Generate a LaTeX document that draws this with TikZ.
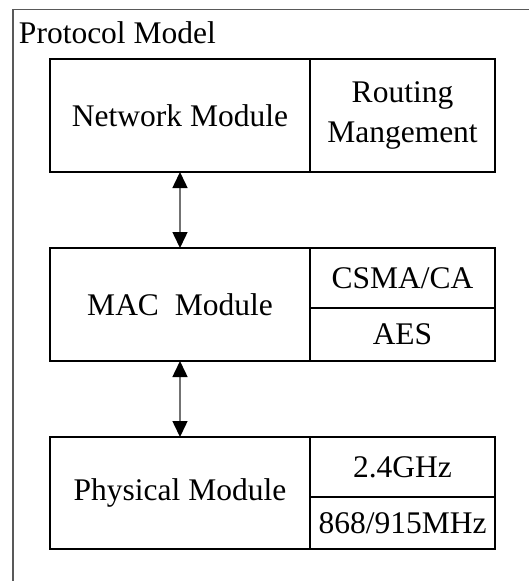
\documentclass[tikz,border=0pt]{standalone}
\usepackage{fontspec}
\setmainfont{Liberation Serif}
\usetikzlibrary{arrows.meta}
\begin{document}
\begin{tikzpicture}[x=1pt,y=-1pt,
  every node/.style={font=\fontsize{31.5}{40}\selectfont, inner sep=0pt, outer sep=0pt},
  cell/.style={draw=black, line width=1.2pt, rectangle, anchor=north west, align=center},
  link/.style={draw=black!55, line width=1.5pt,
    {Triangle[length=16pt,width=15pt,color=black]}-{Triangle[length=16pt,width=15pt,color=black]}},
  frame/.style={draw=black!65, line width=1.5pt}]
\useasboundingbox (0,0) rectangle (529,581);
% outer frame (open, cropped)
\coordinate (fr) at (529,9.5);
\coordinate (fc) at (13,9.5);
\coordinate (fb) at (13,581);
\draw[frame] (fr) -- (fc) -- (fb);
\node[anchor=base west] (title) at (19,43) {Protocol Model};
% Network
\node[cell, minimum width=260pt, minimum height=113pt] (net) at (50,59) {Network Module};
\node[cell, minimum width=185pt, minimum height=113pt] (route) at (310,59) {Routing\\Mangement};
% MAC
\node[cell, minimum width=260pt, minimum height=113pt] (mac) at (50,248) {MAC\ \ Module};
\node[cell, minimum width=185pt, minimum height=60pt] (csma) at (310,248) {CSMA/CA};
\node[cell, minimum width=185pt, minimum height=53pt] (aes) at (310,308) {AES};
% Physical
\node[cell, minimum width=260pt, minimum height=112pt] (phy) at (50,437) {Physical Module};
\node[cell, minimum width=185pt, minimum height=60pt] (ghz) at (310,437) {2.4GHz};
\node[cell, minimum width=185pt, minimum height=52pt] (mhz) at (310,497) {868/915MHz};
% arrows
\draw[link] (net.south) -- (mac.north);
\draw[link] (mac.south) -- (phy.north);
\end{tikzpicture}
\end{document}
